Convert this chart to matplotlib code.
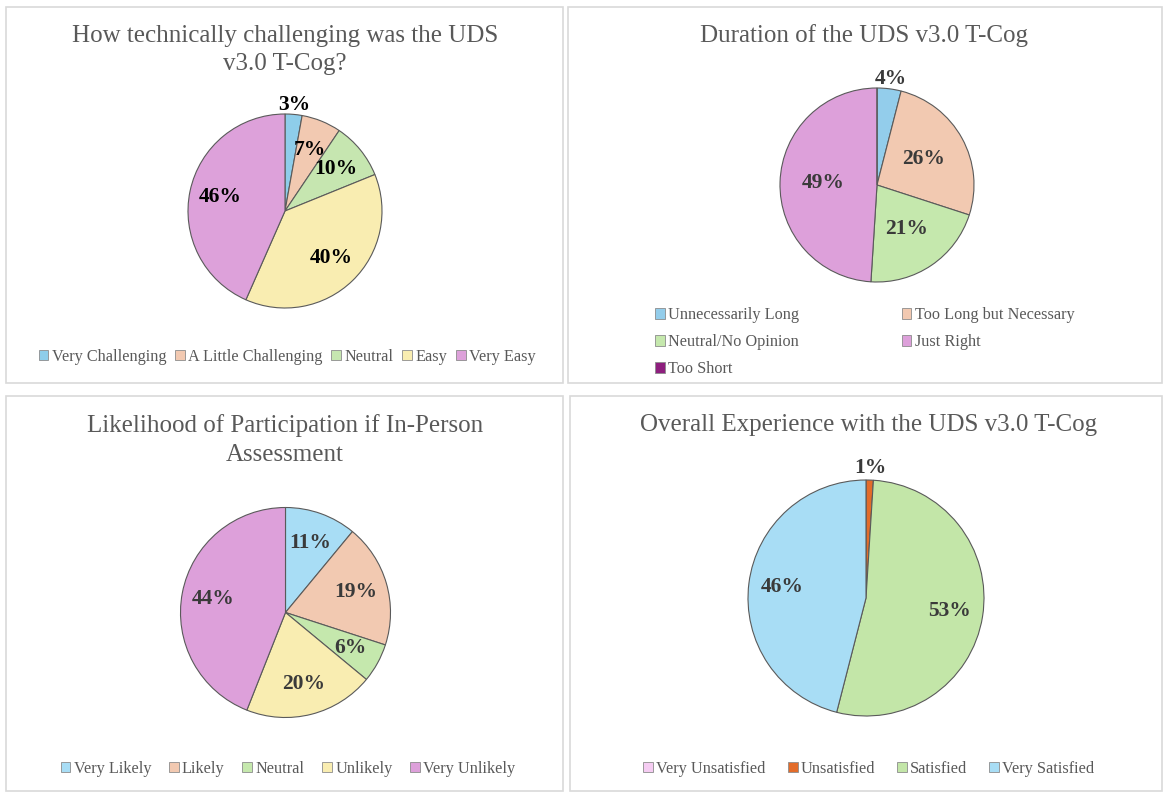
import numpy as np
import matplotlib
matplotlib.use("Agg")
import matplotlib.pyplot as plt
from matplotlib.patches import Rectangle, Patch

plt.rcParams['font.family'] = ['Liberation Serif', 'DejaVu Serif']

W, H = 1169, 798

# ---- data ----
titles = ["How technically challenging was the UDS\nv3.0 T-Cog?",
          "Duration of the UDS v3.0 T-Cog",
          "Likelihood of Participation if In-Person\nAssessment",
          "Overall Experience with the UDS v3.0 T-Cog"]

tech_labels = ["Very Challenging", "A Little Challenging", "Neutral", "Easy", "Very Easy"]
tech_values = [3, 7, 10, 40, 46]

dur_labels = ["Unnecessarily Long", "Too Long but Necessary", "Neutral/No Opinion",
              "Just Right", "Too Short"]
dur_values = [4, 26, 21, 49, 0]

like_labels = ["Very Likely", "Likely", "Neutral", "Unlikely", "Very Unlikely"]
like_values = [11, 19, 6, 20, 44]

exp_labels = ["Very Unsatisfied", "Unsatisfied", "Satisfied", "Very Satisfied"]
exp_values = [0, 1, 53, 46]

# ---- style ----
tech_colors = ["#8ECDEA", "#F2C9B1", "#C6E6B0", "#F9EDB1", "#DDA1DA"]
dur_colors = ["#93CDEB", "#F2C9B1", "#C5E8AD", "#DDA0DA", "#8E1F7E"]
like_colors = ["#A8DDF5", "#F2C9B1", "#C5E8AD", "#F9EDB1", "#DDA0DA"]
exp_colors = ["#F5CCF2", "#E36C2A", "#C3E6A8", "#A8DDF5"]

TXT = "#595959"


def fx(x):
    return x / W


def fy(y):
    return 1 - y / H


fig = plt.figure(figsize=(W / 100, H / 100), dpi=100)

# panel borders (pixels: x0, y0, x1, y1)
panels = [(6, 7, 563, 383), (568, 7, 1162, 383), (6, 396, 563, 791), (570, 396, 1162, 791)]
for x0, y0, x1, y1 in panels:
    fig.add_artist(Rectangle((fx(x0), fy(y1)), fx(x1 - x0), (y1 - y0) / H,
                             transform=fig.transFigure, fill=False,
                             edgecolor="#d9d9d9", linewidth=1.2))


def draw_pie(cx, cy, r, values, colors, dist, lab_color):
    ax = fig.add_axes([fx(cx - r), fy(cy + r), 2 * r / W, 2 * r / H])
    wedges, _ = ax.pie(values, colors=colors, startangle=90, counterclock=False,
                       wedgeprops=dict(edgecolor="#5a5a5a", linewidth=0.8))
    ax.set_xlim(-1, 1)
    ax.set_ylim(-1, 1)
    ax.set_aspect('equal')
    ax.axis('off')
    tot = float(sum(values))
    for w, v in zip(wedges, values):
        if v == 0:
            continue
        th = np.deg2rad((w.theta1 + w.theta2) / 2)
        d = 1.1 if v / tot < 0.05 else dist
        ax.text(d * np.cos(th), d * np.sin(th), "%d%%" % v, ha='center', va='center',
                fontsize=15.5, fontweight='bold', color=lab_color)
    return wedges


def handles(labels, colors):
    return [Patch(facecolor=c, edgecolor="#8c8c8c", linewidth=0.6, label=l)
            for l, c in zip(labels, colors)]


leg_kw = dict(frameon=False, fontsize=11.7, handlelength=0.6, handleheight=0.6,
              handletextpad=0.2, borderpad=0, labelcolor=TXT)

# panel 1
fig.text(fx(285), fy(50), titles[0], ha='center', va='center', fontsize=18,
         color=TXT, linespacing=1.38)
draw_pie(285, 211, 97, tech_values, tech_colors, 0.68, "black")
fig.legend(handles=handles(tech_labels, tech_colors), loc='center',
           bbox_to_anchor=(fx(287), fy(357)), ncol=5, columnspacing=0.55, **leg_kw)

# panel 2
fig.text(fx(864), fy(36), titles[1], ha='center', va='center', fontsize=18, color=TXT)
draw_pie(877, 185, 97, dur_values, dur_colors, 0.55, "#3a3a3a")
hs = handles(dur_labels, dur_colors)
order = [0, 2, 4, 1, 3]
fig.legend(handles=[hs[i] for i in order], loc='upper left',
           bbox_to_anchor=(fx(647), fy(299)), ncol=2, columnspacing=6.3,
           labelspacing=0.68, **leg_kw)

# panel 3
fig.text(fx(285), fy(440), titles[2], ha='center', va='center', fontsize=18,
         color=TXT, linespacing=1.38)
draw_pie(285.5, 612.5, 105, like_values, like_colors, 0.7, "#3a3a3a")
fig.legend(handles=handles(like_labels, like_colors), loc='center',
           bbox_to_anchor=(fx(288), fy(769)), ncol=5, columnspacing=1.1, **leg_kw)

# panel 4
fig.text(fx(869), fy(425), titles[3], ha='center', va='center', fontsize=18, color=TXT)
draw_pie(866, 598, 118, exp_values, exp_colors, 0.72, "#3a3a3a")
fig.legend(handles=handles(exp_labels, exp_colors), loc='center',
           bbox_to_anchor=(fx(869), fy(769)), ncol=4, columnspacing=1.35, **leg_kw)

fig.savefig("out.png", dpi=100)
